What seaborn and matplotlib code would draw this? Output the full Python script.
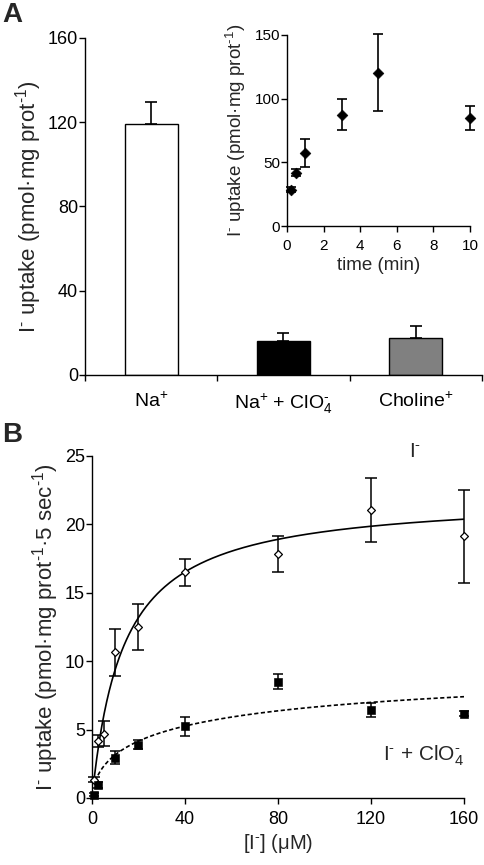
import numpy as np
import pandas as pd
import matplotlib
matplotlib.use("Agg")
import matplotlib.pyplot as plt
import seaborn as sns

# ---------------- data ----------------
# Panel A (bars)
bar_categories = ["Na$^{+}$", "Na$^{+}$ + ClO$_{4}^{\\text{-}}$", "Choline$^{+}$"]
bar_values = [119.0, 16.0, 17.5]
bar_errors = [10.5, 4.0, 5.8]
bar_colors = ["#ffffff", "#000000", "#808080"]

# Panel A inset (time course)
time_min = [0.2, 0.5, 1.0, 3.0, 5.0, 10.0]
time_uptake = [28.5, 42.0, 57.0, 87.5, 120.5, 84.5]
time_err = [2.0, 3.0, 11.0, 12.5, 30.5, 9.5]

# Panel B (kinetics)
conc_I = [1, 2.5, 5, 10, 20, 40, 80, 120, 160]
uptake_I = [1.35, 4.15, 4.7, 10.65, 12.5, 16.5, 17.85, 21.05, 19.15]
err_I = [0.2, 0.45, 0.9, 1.7, 1.7, 1.0, 1.3, 2.35, 3.4]

conc_ClO4 = [1, 2.5, 10, 20, 40, 80, 120, 160]
uptake_ClO4 = [0.25, 0.95, 2.95, 3.9, 5.25, 8.5, 6.45, 6.15]
err_ClO4 = [0.12, 0.2, 0.5, 0.35, 0.7, 0.55, 0.5, 0.18]

# fitted saturation curves (parameters)
fit_I_vmax, fit_I_km = 22.1, 13.5
fit_ClO4_vmax, fit_ClO4_k, fit_ClO4_n = 10.8, 43.6, 0.6

SUPM = "$^{\\text{-}}$"

# ---------------- style ----------------
sns.set_style("ticks")
plt.rcParams["font.family"] = ["Liberation Sans", "DejaVu Sans"]
plt.rcParams["mathtext.fontset"] = "custom"
plt.rcParams["mathtext.rm"] = "Liberation Sans"
plt.rcParams["mathtext.it"] = "Liberation Sans:italic"
plt.rcParams["mathtext.bf"] = "Liberation Sans:bold"
plt.rcParams["axes.linewidth"] = 1.0
plt.rcParams["xtick.major.width"] = 1.0
plt.rcParams["ytick.major.width"] = 1.0
plt.rcParams["xtick.major.size"] = 4
plt.rcParams["ytick.major.size"] = 4
plt.rcParams["xtick.color"] = "black"
plt.rcParams["ytick.color"] = "black"
plt.rcParams["axes.edgecolor"] = "black"

W, H = 485, 865
fig = plt.figure(figsize=(W / 100, H / 100), dpi=100)


def px_axes(l, r, t, b):
    return fig.add_axes([l / W, 1 - b / H, (r - l) / W, (b - t) / H])


def no_clip(container):
    for c in container.get_children():
        c.set_clip_on(False)


# ---------------- Panel A ----------------
axA = px_axes(85, 482, 38, 375)
dfA = pd.DataFrame({"cat": bar_categories, "val": bar_values})
sns.barplot(data=dfA, x="cat", y="val", hue="cat", palette=bar_colors,
            legend=False, width=0.4, edgecolor="black", linewidth=1.0,
            errorbar=None, ax=axA)
ebA = axA.errorbar(x=np.arange(len(bar_values)), y=bar_values,
                   yerr=[np.zeros(len(bar_errors)), bar_errors], fmt="none",
                   ecolor="black", elinewidth=1.2, capsize=4, capthick=1.2, zorder=5)
axA.set_xlim(-0.5, 2.5)
axA.set_ylim(0, 160)
axA.set_yticks([0, 40, 80, 120, 160])
axA.set_xticks([-0.5, 0.5, 1.5, 2.5])
axA.set_xticklabels([])
axA.set_xticks(np.arange(3), minor=True)
axA.set_xticklabels(bar_categories, minor=True)
axA.tick_params(axis="x", which="minor", length=0, pad=12, labelsize=14)
axA.tick_params(axis="y", labelsize=13, pad=1)
axA.set_xlabel("")
axA.set_ylabel("I" + SUPM + " uptake (pmol·mg prot$^{\\text{-}1}$)", fontsize=16, labelpad=3)
sns.despine(ax=axA)
fig.text(2 / W, 1 - 2 / H, "A", fontsize=20, fontweight="bold", va="top", ha="left")

# inset
axI = px_axes(287, 470, 35, 226)
axI.patch.set_alpha(0)
ebI = axI.errorbar(time_min, time_uptake, yerr=time_err, fmt="none", ecolor="black",
                   elinewidth=1.2, capsize=3.5, capthick=1.2)
no_clip(ebI)
sns.scatterplot(x=time_min, y=time_uptake, marker="D", s=30, color="black",
                edgecolor="black", ax=axI, zorder=5, clip_on=False)
axI.set_xlim(0, 10)
axI.set_ylim(0, 150)
axI.set_xticks([0, 2, 4, 6, 8, 10])
axI.set_yticks([0, 50, 100, 150])
axI.tick_params(axis="x", labelsize=11, pad=5)
axI.tick_params(axis="y", labelsize=11, pad=1)
axI.set_xlabel("time (min)", fontsize=13.5, labelpad=3)
axI.set_ylabel("I" + SUPM + " uptake (pmol·mg prot$^{\\text{-}1}$)", fontsize=13.5, labelpad=5)
sns.despine(ax=axI)

# ---------------- Panel B ----------------
axB = px_axes(92, 464, 456, 798)
xs_I = np.linspace(conc_I[0], 160, 300)
ys_I = fit_I_vmax * xs_I / (fit_I_km + xs_I)
xs_C = np.linspace(1.4, 160, 300)
ys_C = fit_ClO4_vmax * xs_C ** fit_ClO4_n / (fit_ClO4_k ** fit_ClO4_n + xs_C ** fit_ClO4_n)
sns.lineplot(x=xs_I, y=ys_I, color="black", linewidth=1.2, ax=axB)
sns.lineplot(x=xs_C, y=ys_C, color="black", linewidth=1.2, ax=axB,
             linestyle=(0, (2.5, 1.5)))
eb1 = axB.errorbar(conc_I, uptake_I, yerr=err_I, fmt="none", ecolor="black",
                   elinewidth=1.1, capsize=4, capthick=1.1)
eb2 = axB.errorbar(conc_ClO4, uptake_ClO4, yerr=err_ClO4, fmt="none", ecolor="black",
                   elinewidth=1.1, capsize=3.5, capthick=1.1)
no_clip(eb1)
no_clip(eb2)
sns.scatterplot(x=conc_I, y=uptake_I, marker="D", s=16, color="white",
                edgecolor="black", linewidth=0.9, ax=axB, zorder=5, clip_on=False)
sns.scatterplot(x=conc_ClO4, y=uptake_ClO4, marker="s", s=30, color="black",
                edgecolor="black", ax=axB, zorder=5, clip_on=False)
axB.set_xlim(0, 160)
axB.set_ylim(0, 25)
axB.set_xticks([0, 40, 80, 120, 160])
axB.set_yticks([0, 5, 10, 15, 20, 25])
axB.tick_params(axis="x", labelsize=13, pad=5)
axB.tick_params(axis="y", labelsize=13, pad=1)
axB.set_xlabel("[I" + SUPM + "] (μM)", fontsize=14.5, labelpad=3)
axB.set_ylabel("I" + SUPM + " uptake (pmol·mg prot$^{\\text{-}1}$·5 sec$^{\\text{-}1}$)",
               fontsize=16, labelpad=2.5)
axB.text(139, 25.3, "I" + SUPM, fontsize=15, ha="center", va="center", clip_on=False)
axB.text(142.5, 3.1, "I" + SUPM + " + ClO$_{4}^{\\text{-}}$", fontsize=15, ha="center", va="center")
sns.despine(ax=axB)
fig.text(2 / W, 1 - 422 / H, "B", fontsize=20, fontweight="bold", va="top", ha="left")

fig.savefig("out.png", dpi=100)
